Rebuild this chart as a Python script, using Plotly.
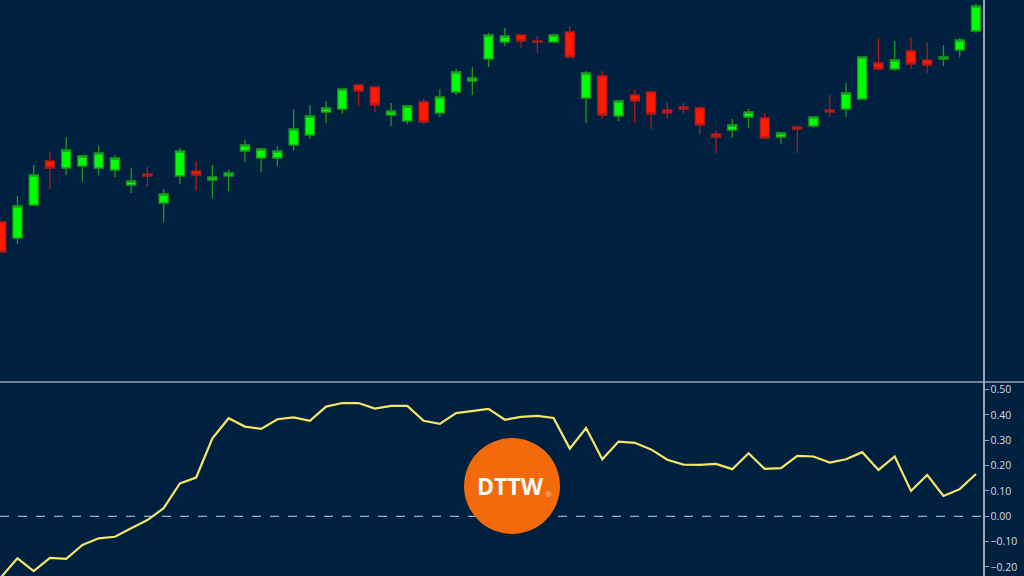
import plotly.graph_objects as go

# ---- data (price units arbitrary, higher = up) ----
idx = list(range(61))

opens = [160, 144, 177, 221, 214, 216, 214, 212, 197, 208, 179, 206, 211, 202, 206, 231, 224, 224, 237, 247,
         270, 273, 297, 295, 267, 261, 280, 269, 290, 301, 323, 340, 347, 341, 340, 350, 284, 306, 266, 287,
         290, 272, 275, 274, 248, 252, 265, 264, 245, 255, 256, 272, 273, 283, 319, 313, 331, 322, 323, 332, 351]
highs = [160, 186, 217, 230, 245, 227, 236, 227, 214, 215, 193, 234, 221, 217, 212, 242, 234, 236, 273, 277,
         281, 293, 297, 295, 279, 276, 283, 293, 313, 315, 349, 354, 347, 346, 348, 356, 311, 311, 282, 293,
         291, 280, 279, 276, 252, 263, 273, 269, 250, 256, 265, 287, 299, 325, 344, 341, 345, 340, 337, 344, 378]
lows = [130, 138, 177, 193, 207, 200, 207, 205, 189, 195, 160, 198, 191, 184, 191, 220, 210, 216, 231, 243,
        259, 268, 276, 270, 256, 258, 258, 265, 287, 287, 315, 336, 334, 329, 339, 324, 259, 263, 261, 259,
        253, 263, 268, 247, 229, 244, 254, 243, 238, 229, 254, 265, 265, 283, 312, 311, 313, 309, 316, 325, 349]
closes = [130, 176, 207, 214, 232, 226, 229, 224, 201, 206, 188, 231, 207, 205, 209, 237, 233, 231, 253, 266,
          274, 293, 291, 277, 271, 276, 260, 285, 310, 304, 347, 346, 341, 340, 347, 325, 309, 267, 281, 281,
          268, 269, 273, 257, 245, 257, 270, 244, 249, 253, 265, 270, 289, 325, 313, 322, 318, 317, 325, 342, 376]

indicator = [-0.24, -0.166, -0.216, -0.164, -0.168, -0.113, -0.087, -0.081, -0.047, -0.015,
             0.032, 0.130, 0.153, 0.308, 0.387, 0.354, 0.345, 0.383, 0.390, 0.377,
             0.433, 0.447, 0.447, 0.425, 0.436, 0.436, 0.377, 0.365, 0.407, 0.415,
             0.424, 0.381, 0.392, 0.396, 0.388, 0.267, 0.348, 0.225, 0.295, 0.290,
             0.264, 0.223, 0.204, 0.203, 0.207, 0.186, 0.249, 0.187, 0.190, 0.238,
             0.236, 0.212, 0.225, 0.253, 0.183, 0.236, 0.100, 0.163, 0.080, 0.107, 0.167]

ind_ticks = [0.5, 0.4, 0.3, 0.2, 0.1, 0.0, -0.1, -0.2]

BG = "#002040"
SPLIT = (576 - 382) / 576.0
XR = 983 / 1024.0

fig = go.Figure()

fig.add_trace(go.Candlestick(
    x=idx, open=opens, high=highs, low=lows, close=closes,
    xaxis="x", yaxis="y",
    increasing=dict(fillcolor="#00ff00", line=dict(color="#1c9a1c", width=1.3)),
    decreasing=dict(fillcolor="#ff1a00", line=dict(color="#b01a1a", width=1.3)),
    whiskerwidth=0, showlegend=False, hoverinfo="skip",
))

fig.add_trace(go.Scatter(
    x=idx, y=indicator, xaxis="x2", yaxis="y2", mode="lines",
    line=dict(color="#f4e664", width=2.2), showlegend=False, hoverinfo="skip",
))

xr = [-0.074, -0.074 + 983 / 16.246]

fig.update_layout(
    width=1024, height=576,
    margin=dict(l=0, r=0, t=0, b=0),
    paper_bgcolor=BG, plot_bgcolor=BG,
    boxgap=0.2,
    xaxis=dict(domain=[0, XR], range=xr, anchor="y", showgrid=False, zeroline=False,
               showticklabels=False, rangeslider=dict(visible=False), showline=False),
    yaxis=dict(domain=[SPLIT, 1], range=[0, 382], side="right", anchor="x", showgrid=False,
               zeroline=False, showticklabels=False, ticks="", showline=True,
               linecolor="#9aa4b4", linewidth=1.5),
    xaxis2=dict(domain=[0, XR], range=xr, anchor="y2", showgrid=False, zeroline=False,
                showticklabels=False, showline=False),
    yaxis2=dict(domain=[0, SPLIT], range=[-0.2357, 0.530], side="right", anchor="x2",
                showgrid=False, zeroline=False, showline=True, linecolor="#9aa4b4", linewidth=1.5,
                tickvals=ind_ticks, tickformat=".2f", ticks="outside", ticklen=4,
                tickcolor="#9aa4b4", tickfont=dict(family="Open Sans", size=10.5, color="#d4dae4")),
)

shapes = [
    # horizontal pane separator
    dict(type="line", xref="paper", yref="paper", x0=0, x1=1, y0=SPLIT, y1=SPLIT,
         line=dict(color="#9aa4b4", width=1.5), layer="above"),
    # zero dashed line
    dict(type="line", xref="x2 domain", yref="y2", x0=0, x1=1, y0=0, y1=0,
         line=dict(color="#c8d0dc", width=1, dash="dash"), layer="below"),
    # logo circle
    dict(type="circle", xref="paper", yref="paper",
         x0=464 / 1024, x1=560 / 1024, y0=(576 - 534) / 576, y1=(576 - 438) / 576,
         fillcolor="#f26a0c", line=dict(width=0), layer="above"),
]
fig.update_layout(shapes=shapes)

fig.add_annotation(xref="paper", yref="paper", x=510 / 1024, y=(576 - 486) / 576,
                   xanchor="center", yanchor="middle",
                   text="<b>DTTW</b>", showarrow=False,
                   font=dict(family="Open Sans", size=23, color="#ffffff"))
fig.add_annotation(xref="paper", yref="paper", x=548 / 1024, y=(576 - 493) / 576,
                   xanchor="center", yanchor="middle",
                   text="®", showarrow=False,
                   font=dict(family="Open Sans", size=8, color="#f8c8b0"))

fig.write_html("out.html", config={"displayModeBar": False, "staticPlot": True})

# remove the browser's default page margin so the figure fills the window
with open("out.html", "r", encoding="utf-8") as f:
    html = f.read()
html = html.replace("<head>", "<head><style>html,body{margin:0;padding:0;overflow:hidden;}</style>", 1)
with open("out.html", "w", encoding="utf-8") as f:
    f.write(html)
